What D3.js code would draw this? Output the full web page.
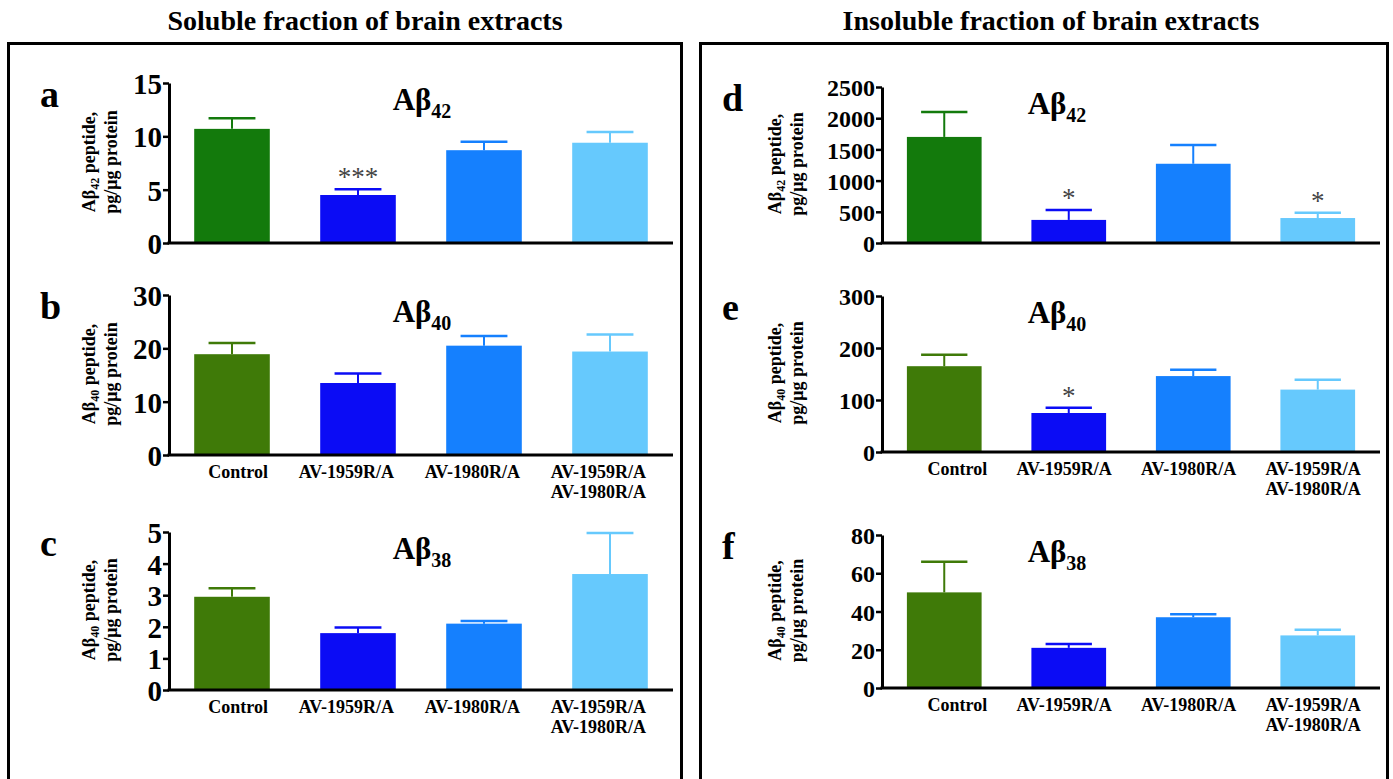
<!DOCTYPE html>
<html>
<head>
<meta charset="utf-8">
<script src="https://cdn.jsdelivr.net/npm/d3@7"></script>
<style>
  body { margin: 0; background: #fff; }
  text { font-family: "Liberation Serif", "Times New Roman", serif; font-weight: bold; }
</style>
</head>
<body>
<svg id="stage" width="1393" height="779"></svg>
<script>
// groups on the x axis (second line after \n)
var groups = ["Control", "AV-1959R/A", "AV-1980R/A", "AV-1959R/A\nAV-1980R/A"];

// soluble fraction
var solA42 = [10.7, 4.5, 8.7, 9.4];
var solA42Err = [1.0, 0.55, 0.8, 1.0];
var solA40 = [18.9, 13.5, 20.5, 19.4];
var solA40Err = [2.1, 1.8, 1.8, 3.2];
var solA38 = [2.95, 1.8, 2.1, 3.67];
var solA38Err = [0.27, 0.18, 0.08, 1.3];

// insoluble fraction
var insA42 = [1700, 370, 1270, 400];
var insA42Err = [400, 160, 300, 85];
var insA40 = [165, 75, 146, 120];
var insA40Err = [22, 10, 12, 19];
var insA38 = [50, 21, 37, 27.5];
var insA38Err = [16, 2, 1.5, 3];

// significance marks
var starsA = ["", "***", "", ""];
var starsD = ["", "*", "", "*"];
var starsE = ["", "*", "", ""];
var noStars = ["", "", "", ""];

// y axis ticks
var ticksA = [0, 5, 10, 15];
var ticksB = [0, 10, 20, 30];
var ticksC = [0, 1, 2, 3, 4, 5];
var ticksD = [0, 500, 1000, 1500, 2000, 2500];
var ticksE = [0, 100, 200, 300];
var ticksF = [0, 20, 40, 60, 80];

var headers = ["Soluble fraction of brain extracts", "Insoluble fraction of brain extracts"];

var greenA = "#137a0c", greenB = "#3f7a08";
var barColors = ["#0b0cf5", "#1580fe", "#66c9fd"];

var svg = d3.select("#stage");

// outer frames + headers
svg.append("rect").attr("x", 8.5).attr("y", 43.5).attr("width", 673).attr("height", 760)
  .attr("fill", "none").attr("stroke", "#000").attr("stroke-width", 3);
svg.append("rect").attr("x", 700.5).attr("y", 43.5).attr("width", 687).attr("height", 760)
  .attr("fill", "none").attr("stroke", "#000").attr("stroke-width", 3);
svg.append("text").attr("x", 365).attr("y", 30).attr("text-anchor", "middle")
  .style("font-size", "28px").text(headers[0]);
svg.append("text").attr("x", 1051).attr("y", 30).attr("text-anchor", "middle")
  .style("font-size", "28px").text(headers[1]);

// panel table built from the arrays above
var panels = [
  {letter: "a", vals: solA42, errs: solA42Err, ticks: ticksA, stars: starsA, sub: "42", ysub: "42", green: greenA,
   x0: 169, x1: 673, y0: 243, y1: 83, side: 0, xlabels: false},
  {letter: "b", vals: solA40, errs: solA40Err, ticks: ticksB, stars: noStars, sub: "40", ysub: "40", green: greenB,
   x0: 169, x1: 673, y0: 455, y1: 295, side: 0, xlabels: true},
  {letter: "c", vals: solA38, errs: solA38Err, ticks: ticksC, stars: noStars, sub: "38", ysub: "40", green: greenB,
   x0: 169, x1: 673, y0: 690, y1: 532, side: 0, xlabels: true},
  {letter: "d", vals: insA42, errs: insA42Err, ticks: ticksD, stars: starsD, sub: "42", ysub: "42", green: greenA,
   x0: 882, x1: 1380, y0: 243, y1: 87, side: 1, xlabels: false},
  {letter: "e", vals: insA40, errs: insA40Err, ticks: ticksE, stars: starsE, sub: "40", ysub: "40", green: greenB,
   x0: 882, x1: 1380, y0: 452, y1: 296, side: 1, xlabels: true},
  {letter: "f", vals: insA38, errs: insA38Err, ticks: ticksF, stars: noStars, sub: "38", ysub: "40", green: greenB,
   x0: 882, x1: 1380, y0: 688, y1: 535, side: 1, xlabels: true}
];

panels.forEach(drawPanel);

function drawPanel(p) {
  var g = svg.append("g");
  var x = d3.scaleBand().domain(groups).range([p.x0, p.x1]).paddingInner(0.4).paddingOuter(0.2);
  var ymax = p.ticks[p.ticks.length - 1];
  var y = d3.scaleLinear().domain([0, ymax]).range([p.y0, p.y1]);
  var colors = [p.green].concat(barColors);
  var data = groups.map(function(k, i) {
    return {key: k, v: p.vals[i], e: p.errs[i], s: p.stars[i], c: colors[i]};
  });

  // error bars (upper only)
  var capW = x.bandwidth() * 0.62;
  var eb = g.selectAll(".err").data(data).enter().append("g").attr("class", "err");
  eb.append("line")
    .attr("x1", function(d) { return x(d.key) + x.bandwidth() / 2; })
    .attr("x2", function(d) { return x(d.key) + x.bandwidth() / 2; })
    .attr("y1", function(d) { return y(d.v); })
    .attr("y2", function(d) { return y(d.v + d.e); })
    .attr("stroke", function(d) { return d.c; }).attr("stroke-width", 2);
  eb.append("line")
    .attr("x1", function(d) { return x(d.key) + x.bandwidth() / 2 - capW / 2; })
    .attr("x2", function(d) { return x(d.key) + x.bandwidth() / 2 + capW / 2; })
    .attr("y1", function(d) { return y(d.v + d.e); })
    .attr("y2", function(d) { return y(d.v + d.e); })
    .attr("stroke", function(d) { return d.c; }).attr("stroke-width", 2.5);

  g.selectAll(".bar").data(data).enter().append("rect")
    .attr("x", function(d) { return x(d.key); })
    .attr("y", function(d) { return y(d.v); })
    .attr("width", x.bandwidth())
    .attr("height", function(d) { return p.y0 - y(d.v); })
    .attr("fill", function(d) { return d.c; });

  g.selectAll(".star").data(data.filter(function(d) { return d.s; })).enter().append("text")
    .attr("x", function(d) { return x(d.key) + x.bandwidth() / 2; })
    .attr("y", function(d) { return y(d.v + d.e) - 3; })
    .attr("text-anchor", "middle")
    .style("font-size", "27px").style("font-weight", "normal").attr("fill", "#444")
    .text(function(d) { return d.s; });

  // y axis
  var yAxis = d3.axisLeft(y).tickValues(p.ticks).tickFormat(d3.format("d"))
    .tickSize(6).tickPadding(1).tickSizeOuter(0);
  var ya = g.append("g").attr("transform", "translate(" + p.x0 + ",0)").call(yAxis);
  ya.attr("font-size", null).attr("font-family", null);
  ya.select(".domain").attr("stroke-width", 3);
  ya.selectAll(".tick line").attr("stroke-width", 2.5);
  ya.selectAll(".tick text").attr("fill", "#000")
    .style("font-size", p.side ? "24px" : "29px").attr("dy", "0.36em");

  // x axis line
  g.append("line").attr("x1", p.x0 - 1.5).attr("x2", p.x1).attr("y1", p.y0).attr("y2", p.y0)
    .attr("stroke", "#000").attr("stroke-width", 3);

  if (p.xlabels) {
    var xl = g.selectAll(".xl").data(groups).enter().append("text")
      .attr("text-anchor", "end")
      .attr("transform", function(d) {
        return "translate(" + (x(d) + x.bandwidth() / 2 + (p.side ? 43 : 36)) + "," + (p.y0 + 23) + ")";
      })
      .style("font-size", "18px");
    xl.each(function(d) {
      var lines = d.split("\n");
      var t = d3.select(this);
      lines.forEach(function(l, i) {
        t.append("tspan").attr("x", 0).attr("dy", i ? 20 : 0).text(l);
      });
    });
  }

  // panel title A beta
  var cx = p.side ? 1057 : 422;
  var tt = g.append("text").attr("x", cx).attr("y", p.y1 + 27).attr("text-anchor", "middle")
    .style("font-size", "31px");
  tt.append("tspan").text("A\u03b2");
  tt.append("tspan").attr("dy", 8).style("font-size", "20px").text(p.sub);

  // panel letter
  g.append("text").attr("x", p.side ? 722 : 40).attr("y", p.y1 + 24)
    .style("font-size", "38px").text(p.letter);

  // y axis title
  var ax = p.side ? 781 : 95;
  var ym = (p.y0 + p.y1) / 2 - 1;
  var yt = g.append("text").attr("transform", "translate(" + ax + "," + ym + ") rotate(-90)")
    .attr("text-anchor", "middle").style("font-size", "18px");
  yt.append("tspan").attr("x", 0).attr("dy", 0).text("A\u03b2");
  yt.append("tspan").attr("dy", 4).style("font-size", "12px").text(p.ysub);
  yt.append("tspan").attr("dy", -4).text(" peptide,");
  yt.append("tspan").attr("x", 0).attr("dy", 22).text("pg/\u03bcg protein");
}
</script>
</body>
</html>
